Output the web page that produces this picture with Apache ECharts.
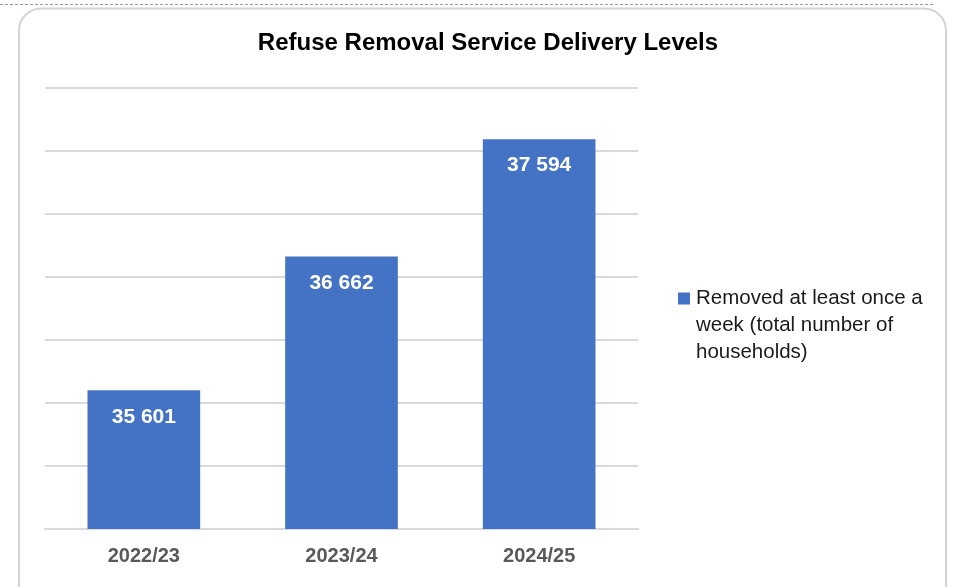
<!DOCTYPE html>
<html><head><meta charset="utf-8">
<script src="https://cdn.jsdelivr.net/npm/echarts@6/dist/echarts.min.js"></script>
<style>html,body{margin:0;padding:0;background:#fff}#c{width:953px;height:587px}</style>
</head><body><div id="c"></div>
<script>
const categories = ['2022/23', '2023/24', '2024/25'];
const seriesName = 'Removed at least once a week (total number of households)';
const values = [35601, 36662, 37594];
const yMin = 34500, yMax = 38000, yStep = 500;

const FONT = "'Liberation Sans', Arial, sans-serif";
const chart = echarts.init(document.getElementById('c'));
chart.setOption({
  animation: false,
  backgroundColor: '#fff',
  graphic: [
    { type: 'line', shape: { x1: 0, y1: 4.5, x2: 935, y2: 4.5 }, style: { stroke: '#9a9a9a', lineWidth: 1, lineDash: [3, 2] }, z: -1 },
    { type: 'rect', shape: { x: 19, y: 8.5, width: 927, height: 600, r: 22 }, style: { fill: 'none', stroke: '#d4d4d4', lineWidth: 2 }, z: -1 }
  ],
  title: {
    text: 'Refuse Removal Service Delivery Levels',
    left: 483, top: 26, textAlign: 'center',
    textStyle: { fontFamily: FONT, fontWeight: 'bold', fontSize: 24, color: '#000' }
  },
  legend: {
    left: 678, top: 285, padding: 0, itemWidth: 12, itemHeight: 81, itemGap: 6,
    icon: 'path://M0,0h0.01M0,7.5h12v12h-12zM0,81h0.01',
    formatter: () => 'Removed at least once a\nweek (total number of\nhouseholds)',
    textStyle: { fontFamily: FONT, fontSize: 20.5, color: '#1a1a1a', lineHeight: 27, padding: [0, 0, 0, 1] },
    data: [seriesName]
  },
  grid: { left: 45, right: 315, top: 88, bottom: 58 },
  xAxis: {
    type: 'category', data: categories,
    axisLine: { lineStyle: { color: '#d9d9d9', width: 2 } },
    axisTick: { show: false },
    axisLabel: { margin: 17, fontFamily: FONT, fontWeight: 'bold', fontSize: 20, color: '#595959' }
  },
  yAxis: {
    type: 'value', min: yMin, max: yMax, interval: yStep,
    axisLabel: { show: false }, axisLine: { show: false }, axisTick: { show: false },
    splitLine: { lineStyle: { color: '#d9d9d9', width: 2 } }
  },
  series: [{
    name: seriesName, type: 'bar', data: values, barWidth: '57%',
    itemStyle: { color: '#4472c4' },
    label: {
      show: true, position: 'insideTop', distance: 16,
      formatter: p => String(p.value).replace(/\B(?=(\d{3})+(?!\d))/g, ' '),
      fontFamily: FONT, fontWeight: 'bold', fontSize: 21, color: '#fff'
    }
  }]
});
</script></body></html>
